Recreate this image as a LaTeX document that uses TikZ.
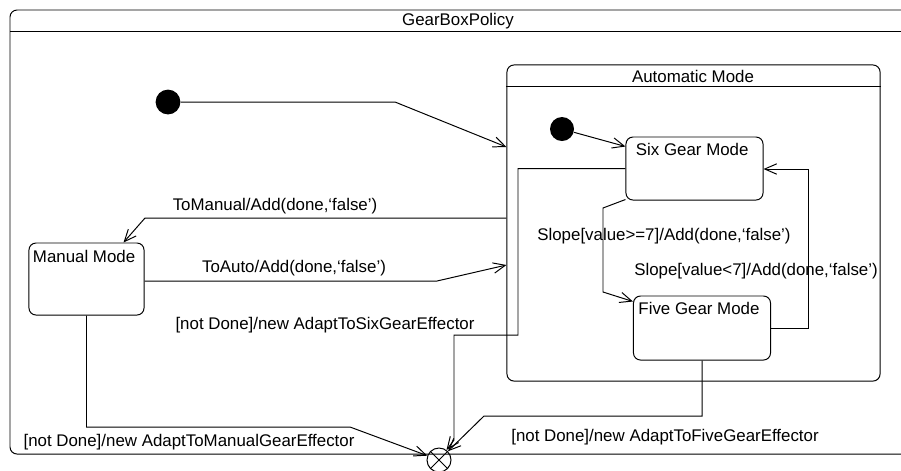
\documentclass[tikz,border=0pt]{standalone}
\usepackage{fontspec}
\setmainfont{Liberation Sans}
\usetikzlibrary{arrows.meta}
\tikzset{
  state/.style={draw,rounded corners=5pt,minimum width=3.425cm,minimum height=1.6cm,inner sep=0pt},
  init/.style={circle,fill=black,minimum size=0.62cm,inner sep=0pt},
  lbl/.style={inner sep=0pt,font=\fontsize{12}{14}\selectfont},
}
\begin{document}
\begin{tikzpicture}[x=0.025cm,y=-0.025cm,>={Straight Barb[length=3mm,width=2.6mm]},line width=0.7pt]
  \useasboundingbox (0,0) rectangle (901,470);
  % Outer policy frame, open on the right.
  \draw[rounded corners=5pt] (901,10) -- (10,10) -- (10,454) -- (901,454);
  \draw (10,31) -- (901,31);
  \node[lbl] (title) at (458,21) {GearBoxPolicy};
  % Composite state and its substates.
  \node[draw,rounded corners=5pt,minimum width=9.325cm,minimum height=7.9cm,inner sep=0pt] (auto) at (693.5,223) {};
  \draw (auto.west |- 0,86) -- (auto.east |- 0,86);
  \node[lbl] (autotitle) at (693,76) {Automatic Mode};
  \node[state,minimum height=1.575cm] (six) at (694.5,168.5) {};
  \node[lbl,anchor=north west] (sixtxt) at ([shift={(10,6)}]six.north west) {Six Gear Mode};
  \node[state] (five) at (702,328) {};
  \node[lbl,anchor=north west] (fivetxt) at ([shift={(5,6)}]five.north west) {Five Gear Mode};
  \node[state,minimum width=2.875cm,minimum height=1.8cm] (manual) at (86.5,279) {};
  \node[lbl,anchor=north west] (manualtxt) at ([shift={(4,7)}]manual.north west) {Manual Mode};
  % Pseudo states.
  \node[init] (start) at (168,102) {};
  \node[init,minimum size=0.6cm] (start2) at (562,129) {};
  \node[circle,draw,minimum size=0.6cm,inner sep=0pt] (final) at (439,460) {};
  \draw (final.north west) -- (final.south east) (final.north east) -- (final.south west);
  % Bend points.
  \coordinate (k1) at (395,102);
  \coordinate (k2) at (145,218);
  \coordinate (k3) at (437,281);
  \coordinate (k4) at (518,168.5);
  \coordinate (k5) at (518,335);
  \coordinate (k6) at (454,335);
  \coordinate (k7) at (454,440);
  \coordinate (k8) at (702,416);
  \coordinate (k9) at (484,416);
  \coordinate (k10) at (86.5,427);
  \coordinate (k11) at (350,427);
  \coordinate (k12) at (603,208);
  \coordinate (k13) at (603,292);
  \coordinate (k14) at (808,328);
  \coordinate (k15) at (808,169);
  % Transitions.
  \draw[->] (start) -- (k1) -- (auto.west |- 0,147);
  \draw[->] (start2) -- ([shift={(0,10)}]six.north west);
  \draw[->] (auto.west |- k2) -- (k2) -- ([shift={(-21,0)}]manual.north east);
  \draw[->] (manual.east |- k3) -- (k3) -- (auto.west |- 0,265);
  \draw[->] (six.west) -- (k4) -- (k5) -- (k6) -- (k7) -- (final);
  \draw[->] (five.south) -- (k8) -- (k9) -- (final);
  \draw[->] (manual.south) -- (k10) -- (k11) -- (final);
  \draw[->] ([shift={(0,-1)}]six.south west) -- (k12) -- (k13) -- ([shift={(0,6)}]five.north west);
  \draw[->] (five.east |- k14) -- (k14) -- (k15) -- (six.east |- k15);
  % Transition labels.
  \node[lbl] (tomanual) at (275,206) {ToManual/Add(done,‘false’)};
  \node[lbl] (toauto) at (294,268) {ToAuto/Add(done,‘false’)};
  \node[lbl] (sixout) at (325,325) {[not Done]/new AdaptToSixGearEffector};
  \node[lbl] (manualout) at (189,442) {[not Done]/new AdaptToManualGearEffector};
  \node[lbl] (fiveout) at (665,437) {[not Done]/new AdaptToFiveGearEffector};
  \node[lbl] (down) at (664,236) {Slope[value>=7]/Add(done,‘false’)};
  \node[lbl] (up) at (756,271) {Slope[value<7]/Add(done,‘false’)};
\end{tikzpicture}
\end{document}
